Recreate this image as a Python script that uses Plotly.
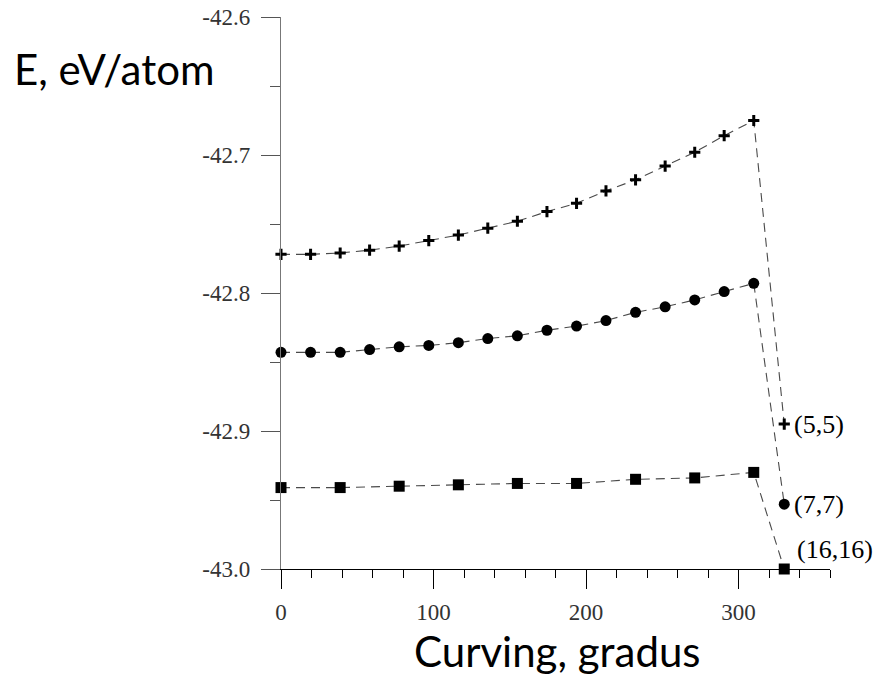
import plotly.graph_objects as go

# ---- data ----
curving_main = [0, 19.4, 38.8, 58.1, 77.5, 96.9, 116.3, 135.6, 155.0, 174.4,
                193.8, 213.1, 232.5, 251.9, 271.3, 290.6, 310.0]
energy_5_5 = [-42.772, -42.772, -42.771, -42.769, -42.766, -42.762, -42.758, -42.753,
              -42.748, -42.741, -42.735, -42.726, -42.718, -42.708, -42.698, -42.686,
              -42.675]
energy_7_7 = [-42.843, -42.843, -42.843, -42.841, -42.839, -42.838, -42.836, -42.833,
              -42.831, -42.827, -42.824, -42.820, -42.814, -42.810, -42.805, -42.799,
              -42.793]
curving_16 = [0, 38.8, 77.5, 116.3, 155.0, 193.8, 232.5, 271.3, 310.0]
energy_16_16 = [-42.941, -42.941, -42.940, -42.939, -42.938, -42.938, -42.935,
                -42.934, -42.930]
curving_end = 330
end_5_5 = -42.895
end_7_7 = -42.953
end_16_16 = -43.000

series_labels = ["(5,5)", "(7,7)", "(16,16)"]
x_tickvals = [0, 100, 200, 300]
x_ticktext = ["0", "100", "200", "300"]
y_tickvals = [-43.0, -42.9, -42.8, -42.7, -42.6]
y_ticktext = ["-43.0", "-42.9", "-42.8", "-42.7", "-42.6"]

line_style = dict(color="#4a4a4a", width=1.1, dash="9px,6px")

fig = go.Figure()
series = [
    (curving_main, energy_5_5, end_5_5, dict(symbol="cross-thin", size=8,
                                             line=dict(width=3, color="black"))),
    (curving_main, energy_7_7, end_7_7, dict(symbol="circle", size=11, color="black")),
    (curving_16, energy_16_16, end_16_16, dict(symbol="square", size=11, color="black")),
]
for xs, ys, yend, mk in series:
    fig.add_trace(go.Scatter(
        x=xs + [curving_end], y=ys + [yend], mode="lines+markers",
        line=line_style, marker=mk, cliponaxis=False, showlegend=False,
    ))

ends = [end_5_5, end_7_7, end_16_16]
label_y = [ends[0], ends[1], -42.986]
label_x = [335, 335, 337]
for lab, lx, ly in zip(series_labels, label_x, label_y):
    fig.add_annotation(x=lx, y=ly, text=lab, showarrow=False, xanchor="left",
                       yanchor="middle",
                       font=dict(family="Liberation Serif", size=26, color="black"))

fig.add_annotation(xref="paper", yref="paper", x=-0.49, y=0.905, text="E, eV/atom",
                   showarrow=False, xanchor="left", yanchor="middle",
                   font=dict(family="Lato", size=42, color="black"))
fig.add_annotation(xref="paper", yref="paper", x=0.5035, y=-0.148,
                   text="Curving, gradus", showarrow=False, xanchor="center",
                   yanchor="middle",
                   font=dict(family="Lato", size=42, color="black"))

tick_font = dict(family="Liberation Serif", size=23, color="#333333")
fig.update_xaxes(range=[0, 360], tickvals=x_tickvals, ticktext=x_ticktext,
                 ticks="outside", ticklen=19, tickwidth=1, tickcolor="black",
                 showline=True, linecolor="black", linewidth=1, automargin=False,
                 showgrid=False, zeroline=False, tickfont=tick_font,
                 ticklabelstandoff=3, ticklabeloverflow="allow",
                 minor=dict(dtick=20, tick0=0, ticks="outside", ticklen=8,
                            tickcolor="black", showgrid=False))
fig.update_yaxes(range=[-43.0, -42.6], tickvals=y_tickvals, ticktext=y_ticktext,
                 ticks="outside", ticklen=19, tickwidth=1, tickcolor="#555555",
                 showline=True, linecolor="#777777", linewidth=1.3, automargin=False,
                 showgrid=False, zeroline=False, tickfont=tick_font,
                 ticklabelstandoff=6, ticklabeloverflow="allow",
                 minor=dict(dtick=0.05, tick0=-43.0, ticks="outside", ticklen=10,
                            tickcolor="#555555", showgrid=False))

fig.update_layout(width=881, height=668, plot_bgcolor="white", paper_bgcolor="white",
                  margin=dict(l=273, r=59, t=9, b=107, autoexpand=False),
                  showlegend=False)

fig.write_html("out.html")
